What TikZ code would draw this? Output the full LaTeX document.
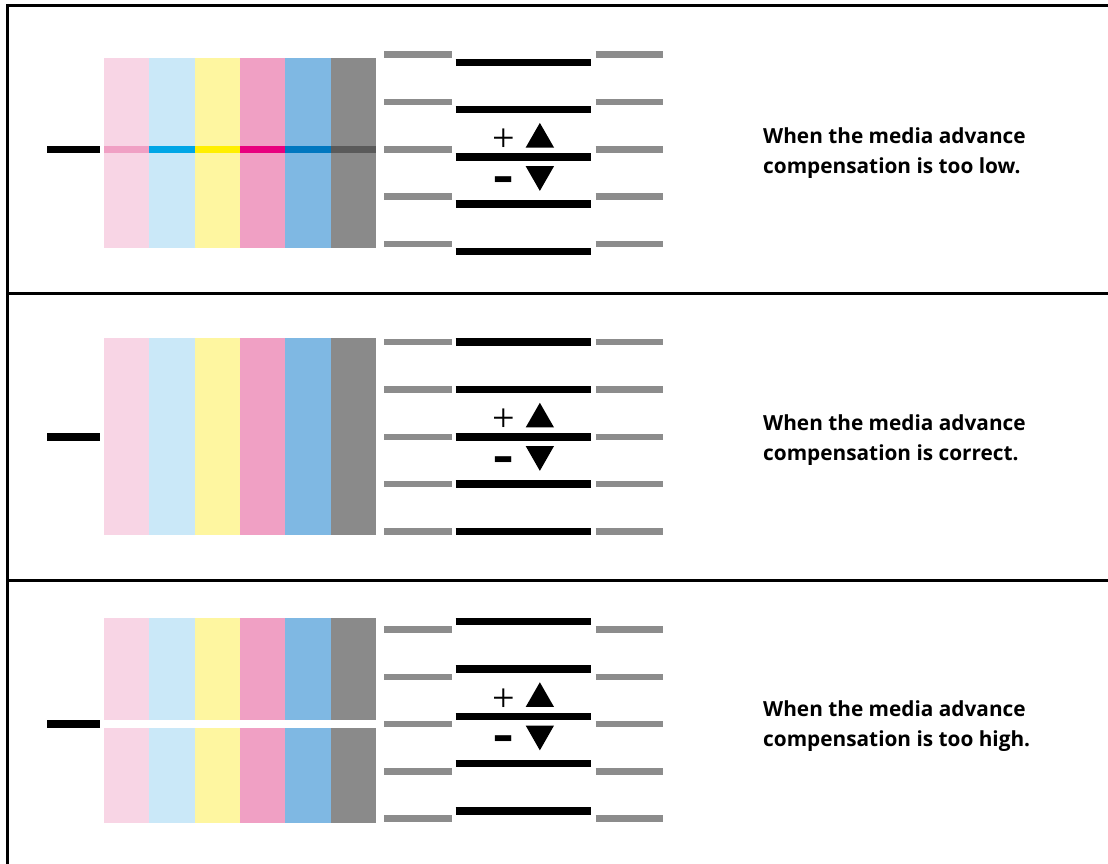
\documentclass[tikz,border=0pt]{standalone}
\usepackage{fontspec}
\setmainfont{Open Sans}
\newfontfamily\signfont{Liberation Serif}
\definecolor{barpink}{HTML}{F8D5E5}
\definecolor{barcyan}{HTML}{CAE8F8}
\definecolor{baryellow}{HTML}{FEF6A0}
\definecolor{barmagenta}{HTML}{F0A0C4}
\definecolor{barblue}{HTML}{7FB8E3}
\definecolor{bargrey}{HTML}{8A8A8A}
\definecolor{inkpink}{HTML}{F0A0C4}
\definecolor{inkcyan}{HTML}{00A6E6}
\definecolor{inkyellow}{HTML}{FFEF00}
\definecolor{inkmagenta}{HTML}{E8007E}
\definecolor{inkblue}{HTML}{0077C0}
\definecolor{inkgrey}{HTML}{5A5A5A}
\definecolor{tickgrey}{HTML}{8C8C8C}
\tikzset{
  frame/.style={line width=3pt},
  greytick/.style={draw=tickgrey, line width=6.5pt},
  blackline/.style={draw=black, line width=7.5pt},
  plussign/.style={inner sep=0pt, font=\signfont\fontsize{40}{40}\selectfont},
  minussign/.style={inner sep=0pt, font=\bfseries\fontsize{48}{48}\selectfont},
  caption/.style={anchor=west, align=left, inner sep=0pt, font=\bfseries\fontsize{20.8}{30.5}\selectfont},
}
\begin{document}
\begin{tikzpicture}[x=1pt, y=-1pt]
  \useasboundingbox (0,0) rectangle (1108,863);
  \fill[white] (0,0) rectangle (1108,863);
  \draw[frame] (7,870) -- (7,5.7) -- (1115,5.7);
  \draw[frame] (7,293.3) -- (1115,293.3);
  \draw[frame] (7,580) -- (1115,580);
  \foreach \c/\s [count=\i from 0] in {barpink/inkpink, barcyan/inkcyan, baryellow/inkyellow, barmagenta/inkmagenta, barblue/inkblue, bargrey/inkgrey} {
    \fill[\c] (104+45.33*\i,58) rectangle ++(45.4,190);
    \fill[\s] (104+45.33*\i,145.7) rectangle ++(45.4,7.6);
    \fill[\c] (104+45.33*\i,338) rectangle ++(45.4,197);
    \fill[\c] (104+45.33*\i,618) rectangle ++(45.4,102);
    \fill[\c] (104+45.33*\i,728) rectangle ++(45.4,94.7);
  }
  \fill (47,145.7) rectangle (100,153.3);
  \fill (47,432.7) rectangle (100,440.7);
  \fill (47,720.3) rectangle (100,727.7);
  \foreach \g/\b in {54.7/62.3, 342.2/342.2, 629.5/621.7} {
    \foreach \k in {0,...,4} {
      \draw[greytick] (384,\g+47.3*\k) -- (452,\g+47.3*\k);
      \draw[greytick] (595.7,\g+47.3*\k) -- (663.3,\g+47.3*\k);
      \draw[blackline] (455.7,\b+47.3*\k) -- (591.3,\b+47.3*\k);
    }
  }
  \foreach \m/\n in {156.9/a, 436.8/b, 716.3/c} {
    \node[plussign] (plus\n) at (503.8,\m-16.5) {+};
    \node[minussign] (minus\n) at (504,\m+27.5) {\scalebox{1.3}[1]{-}};
    \fill (525.7,\m-9.4) -- (554,\m-9.4) -- (539.85,\m-34) -- cycle;
    \fill (525.7,\m+9.3) -- (554,\m+9.3) -- (539.85,\m+34) -- cycle;
  }
  \node[caption] (lowtxt) at (763,153) {When the media advance\\compensation is too low.};
  \node[caption] (correcttxt) at (763,440) {When the media advance\\compensation is correct.};
  \node[caption] (hightxt) at (763,726) {When the media advance\\compensation is too high.};
\end{tikzpicture}
\end{document}
